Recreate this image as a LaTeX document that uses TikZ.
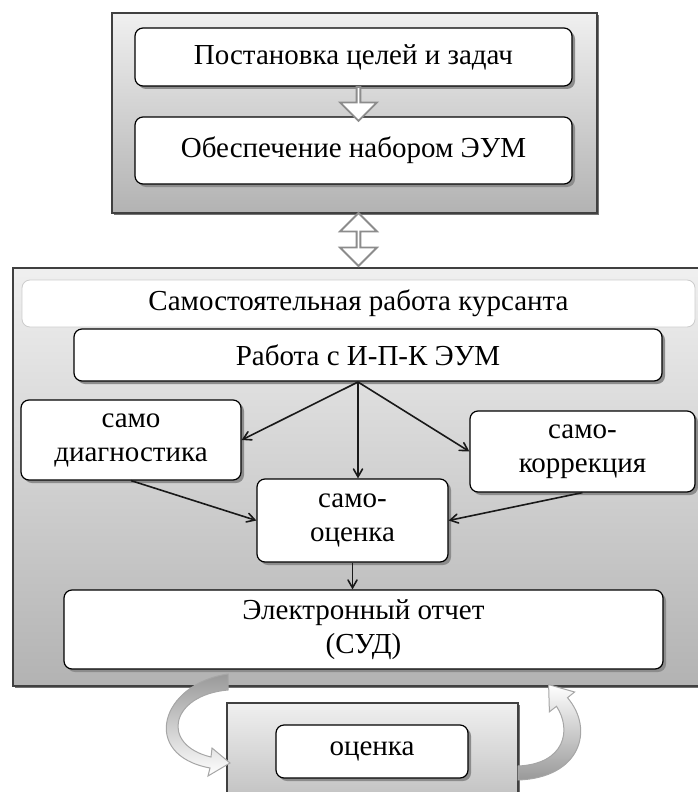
\documentclass[tikz,border=0pt]{standalone}
\usepackage{fontspec}
\setmainfont{Liberation Serif}
\usepackage{tikz}
\usetikzlibrary{shapes}
\usetikzlibrary{arrows}
\usetikzlibrary{calc}
\usetikzlibrary{shadings, shadows}
\tikzstyle{cadre}=[
        rectangle,
        draw=black!75,
        line width=1pt,
        top color=black!6,
        bottom color=black!30,
        drop shadow={shadow xshift=1.2pt,shadow yshift=-1.2pt,fill=black!55,opacity=1}
]
\tikzstyle{etape}=[rectangle,draw,rounded corners=4pt,fill=white,line width=0.6pt,
align=center,inner sep=2pt,
drop shadow={shadow xshift=1.5pt,shadow yshift=-1.5pt,fill=black!45,opacity=1}]
\tikzstyle{bandeau}=[rectangle,draw=black!20,rounded corners=4pt,fill=white,inner sep=2pt]
\tikzstyle{bloc}=[draw=black!45,fill=white,line width=0.9pt,inner sep=0pt]
\tikzstyle{tour}=[draw=black!35,line width=0.5pt]
\tikzstyle{lien}=[->,>=angle 60,line width=0.8pt,draw=black!90]

\begin{document}
\begin{tikzpicture}[x=0.5pt,y=-0.5pt,font=\fontsize{14.5}{17}\selectfont]
\useasboundingbox (0,0) rectangle (697,792);
\node[cadre,minimum width=242.5pt,minimum height=100pt] (haut) at (354.5,113) {};
\node[cadre,minimum width=346pt,minimum height=209pt] (travail) at (359,477) {};
\node[cadre,minimum width=145.5pt,minimum height=63.5pt] (bas) at (372.5,766.5) {};
\node[etape,minimum width=218.5pt,minimum height=29pt] (buts) at (353.5,57) {Постановка целей и задач};
\node[etape,minimum width=218.5pt,minimum height=33.5pt] (eum) at (353.5,150.5) {Обеспечение набором ЭУМ};
\node[bandeau,minimum width=336.5pt,minimum height=23.5pt] (titre) at (358.5,303.5) {Самостоятельная работа курсанта};
\node[etape,minimum width=294pt,minimum height=26pt] (ipk) at (368,355) {Работа с И-П-К ЭУМ};
\node[etape,minimum width=110pt,minimum height=40pt] (diag) at (131,440) {само\\диагностика};
\node[etape,minimum width=112.5pt,minimum height=40.5pt] (corr) at (582.5,451.5) {само-\\коррекция};
\node[etape,minimum width=95.5pt,minimum height=41.5pt] (auto) at (352.5,520.5) {само-\\оценка};
\node[etape,minimum width=299.5pt,minimum height=39.5pt] (rapport) at (363.5,629.5) {Электронный отчет\\(СУД)};
\node[etape,minimum width=96pt,minimum height=26.5pt] (note) at (372,751.5) {оценка};
%fleches pleines
\node[bloc,single arrow,shape border rotate=270,minimum height=17pt,minimum width=18.5pt,single arrow head extend=4pt] (pas) at (358.5,103) {};
\node[bloc,double arrow,shape border rotate=90,minimum height=26.5pt,minimum width=18.5pt,double arrow head extend=4pt] (echange) at (358.5,239.5) {};
%fleches courbes
\draw[tour,top color=black!40,bottom color=white] (228,674) .. controls (160,684) and (140,755) .. (210,768) -- (208,776) -- (230,763) -- (212,748) -- (211,757) .. controls (160,745) and (170,695) .. (228,690) -- cycle;
\draw[tour,top color=white,bottom color=black!40] (518,780) .. controls (580,778) and (595,730) .. (567.5,697.7) -- (574.6,692) -- (548.6,684.6) -- (549.4,711.8) -- (556.5,706.3) .. controls (572,730) and (565,764) .. (518,766) -- cycle;
%liens
\coordinate (split) at (358,382);
\draw[lien] (split) -- (diag.east);
\draw[lien] (split) -- (split |- auto.north);
\draw[lien] (split) -- (corr.west);
\draw[lien] (diag.south) -- (auto.west);
\draw[lien] (corr.south) -- (auto.east);
\draw[lien] (auto.south) -- (auto.south |- rapport.north);
\end{tikzpicture}
\end{document}
